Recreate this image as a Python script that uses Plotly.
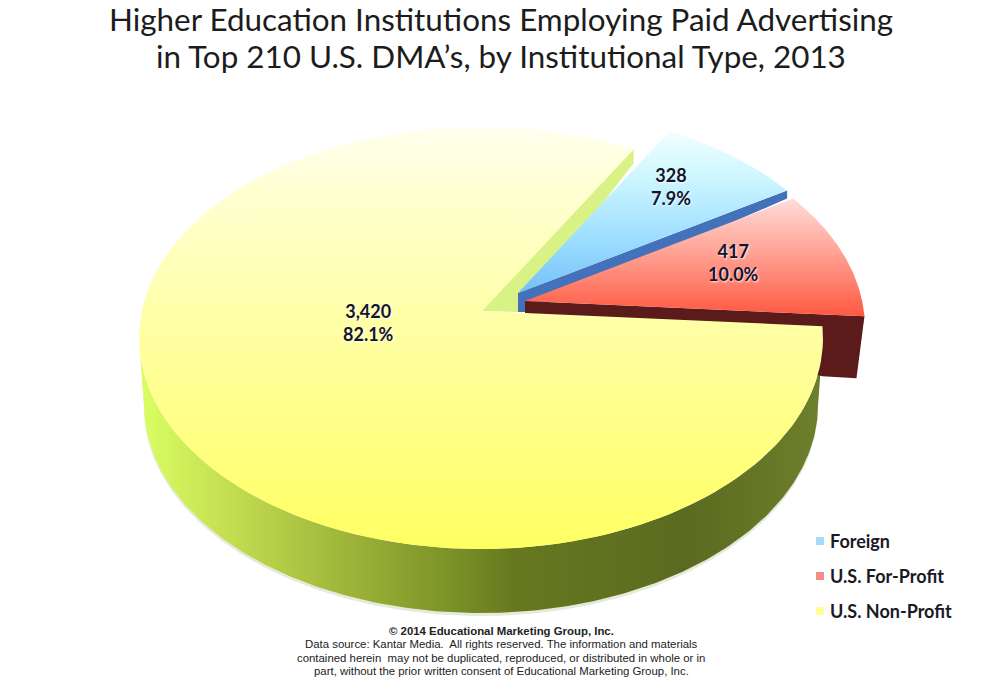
import numpy as np
import plotly.graph_objects as go

categories = ["Foreign", "U.S. For-Profit", "U.S. Non-Profit"]
values = [328, 417, 3420]
title_lines = ["Higher Education Institutions Employing Paid Advertising",
               "in Top 210 U.S. DMA’s, by Institutional Type, 2013"]
footer_bold = "© 2014 Educational Marketing Group, Inc."
footer_lines = ["Data source: Kantar Media.  All rights reserved. The information and materials",
                "contained herein  may not be duplicated, reproduced, or distributed in whole or in",
                "part, without the prior written consent of Educational Marketing Group, Inc."]

# projection of the tilted pie onto the page
CX, CY, RX, RY = 481.0, 338.0, 342.0, 211.0
BCX, BCY, BRX, BRY = 481.0, 405.0, 337.0, 208.0
APEX = np.array([482.0, 311.0])
EXPLODE = {"Foreign": (36.0, -18.0), "U.S. For-Profit": (42.0, -10.0), "U.S. Non-Profit": (0.0, 0.0)}


def warp(phi):
    """Pie angle (deg) to the ellipse parameter, allowing for perspective."""
    r = np.radians(phi)
    return phi + 3.2 - 2.72 * np.sin(2 * r) + 2.02 * np.sin(4 * r)


def rim(a, b, dx=0.0, dy=0.0, n=160):
    t = np.radians(warp(np.linspace(a, b, n)))
    return CX + dx + RX * np.cos(t), CY + dy - RY * np.sin(t)


total = sum(values)
share = {c: v / total for c, v in zip(categories, values)}
a_red_end = 360 * share["U.S. For-Profit"]
a_blue_end = a_red_end + 360 * share["Foreign"]


def poly(xs, ys, color=None, grad=None):
    kw = dict(x=list(xs), y=list(ys), mode="lines", fill="toself", line=dict(width=0),
              hoverinfo="skip", showlegend=False)
    if grad:
        kw["fillgradient"] = grad
        kw["fillcolor"] = "rgba(0,0,0,0)"
    else:
        kw["fillcolor"] = color
    return go.Scatter(**kw)


fig = go.Figure()

# --- main slice wall ---
s = np.linspace(0, np.pi, 200)
top_x, top_y = CX + RX * np.cos(s), CY + RY * np.sin(s)
bot_x, bot_y = BCX + BRX * np.cos(s), BCY + BRY * np.sin(s)
fig.add_trace(poly(np.r_[bot_x + 0, top_x[::-1]], np.r_[bot_y + 3, top_y[::-1]], color="#e6eadb"))
fig.add_trace(poly(
    np.r_[bot_x, top_x[::-1]], np.r_[bot_y, top_y[::-1]],
    grad=dict(type="horizontal", start=140, stop=823,
              colorscale=[[0, "#d9ff62"], [0.12, "#c6e052"], [0.3, "#9fb53a"], [0.45, "#7c9328"],
                          [0.55, "#66781f"], [0.8, "#5a6b20"], [1, "#6e7f2c"]])))

# --- inner wall of main slice ---
main_x, main_y = rim(a_blue_end, 360)
fig.add_trace(poly([APEX[0], main_x[0], main_x[0], 518], [APEX[1], main_y[0], main_y[0] + 14, 312],
                   color="#d8f286"))

# --- foreign slice ---
dx, dy = EXPLODE["Foreign"]
bx, by = rim(a_red_end, a_blue_end, dx, dy)
ax, ay = APEX + (dx, dy)
fig.add_trace(poly([ax, bx[0], bx[0], ax + 7, ax], [ay, by[0], by[0] + 8, ay + 19, ay + 19], color="#4472ba"))
fig.add_trace(poly(np.r_[ax, bx], np.r_[ay, by],
                   grad=dict(type="vertical", start=130, stop=292,
                             colorscale=[[0, "#f2ffff"], [0.3, "#ccf6ff"], [0.7, "#9adcff"], [1, "#74c0f6"]])))

# --- for-profit slice ---
dx, dy = EXPLODE["U.S. For-Profit"]
rx_, ry_ = rim(0, a_red_end, dx, dy)
ax, ay = APEX + (dx + 1, dy)
fig.add_trace(poly([ax, rx_[0], rx_[0] - 8, rx_[0] - 42, ax], [ay, ry_[0], ry_[0] + 62, ry_[0] + 60, ay + 12],
                   color="#5c1b1b"))
fig.add_trace(poly(np.r_[ax, rx_], np.r_[ay, ry_],
                   grad=dict(type="vertical", start=199, stop=316,
                             colorscale=[[0, "#ffdcd8"], [0.35, "#ffb0a4"], [0.7, "#ff8270"], [1, "#ff5840"]])))

# --- non-profit top ---
fig.add_trace(poly(np.r_[APEX[0], main_x], np.r_[APEX[1], main_y],
                   grad=dict(type="vertical", start=127, stop=549,
                             colorscale=[[0, "#fffff0"], [0.15, "#ffffd2"], [0.45, "#ffffa8"], [1, "#ffff62"]])))

# --- legend keys with labels ---
KEY_X, KEY_Y, KEY_COLORS = 820, [541, 576, 611], ["#a6dcf8", "#f28e86", "#ffff96"]
fig.add_trace(go.Scatter(
    x=[KEY_X] * 3, y=KEY_Y, mode="markers", hoverinfo="skip", showlegend=False,
    marker=dict(symbol="square", size=8, color=KEY_COLORS, line=dict(width=0))))

annotations = []
for c, y in zip(categories, KEY_Y):
    annotations.append(dict(x=828, y=y, text=f"<b>{c}</b>", xanchor="left", yanchor="middle", showarrow=False,
                            font=dict(family="Lato", size=18, color="#1a1a26")))

LABEL_POS = {"Foreign": (671, 186), "U.S. For-Profit": (733, 262), "U.S. Non-Profit": (368, 322)}
for c, v in zip(categories, values):
    annotations.append(dict(x=LABEL_POS[c][0], y=LABEL_POS[c][1], text=f"<b>{v:,}<br>{v / total:.1%}</b>",
                            showarrow=False, font=dict(family="Lato", size=18, color="#14142a",
                                                       shadow="1px 1px 2px rgba(255,255,255,0.9)")))

for i, line in enumerate(title_lines):
    annotations.append(dict(x=501, y=19 + 36.5 * i, text=line, showarrow=False, yanchor="middle",
                            font=dict(family="Lato", size=31.4, color="#1c1c1c")))

annotations.append(dict(x=501, y=631, text=f"<b>{footer_bold}</b>", showarrow=False, yanchor="middle",
                        font=dict(family="Liberation Sans", size=11.4, color="#222222")))
for i, line in enumerate(footer_lines):
    annotations.append(dict(x=501, y=644 + 13.6 * i, text=line, showarrow=False, yanchor="middle",
                            font=dict(family="Liberation Sans", size=11.4, color="#222222")))

fig.update_layout(
    width=999, height=699, margin=dict(l=0, r=0, t=0, b=0),
    paper_bgcolor="white", plot_bgcolor="white", showlegend=False,
    xaxis=dict(range=[0, 999], visible=False, fixedrange=True),
    yaxis=dict(range=[699, 0], visible=False, fixedrange=True),
    annotations=annotations,
)
fig.write_html("out.html", config={"displayModeBar": False},
               post_script="document.body.style.margin='0';document.body.style.overflow='hidden';")
